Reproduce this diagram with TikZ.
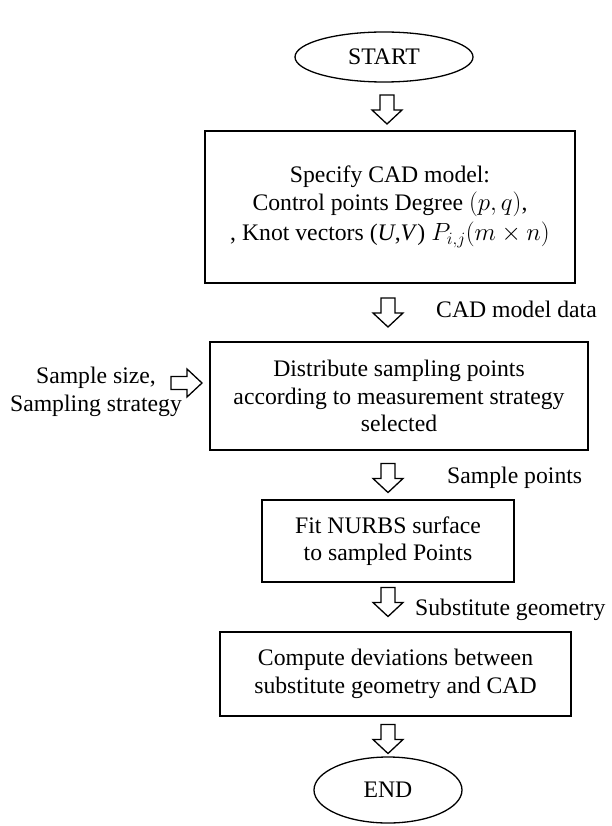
\documentclass[tikz,border=0pt]{standalone}
\usepackage{fontspec}
\setmainfont{Liberation Serif}
\usetikzlibrary{shapes.geometric,calc}
\begin{document}
\begin{tikzpicture}[x=1pt,y=-1pt,
  txt/.style={font=\fontsize{23.7}{27.5}\selectfont},
  box/.style={draw,line width=1.7pt,txt,align=center,inner sep=0pt},
  term/.style={draw,ellipse,line width=1.3pt,txt,inner sep=0pt},
  lbl/.style={txt,inner sep=0pt},
  blk/.style={draw,line width=1.3pt,fill=white,line join=miter},
  downblk/.pic={\draw[blk] (-7,-14.5) -- (7,-14.5) -- (7,0.5) -- (15,0.5) -- (0,14.5) -- (-15,0.5) -- (-7,0.5) -- cycle;},
  rightblk/.pic={\draw[blk] (-15.5,-6.5) -- (0.5,-6.5) -- (0.5,-14) -- (15.5,0) -- (0.5,14) -- (0.5,6.5) -- (-15.5,6.5) -- cycle;}]
\fill[white] (0,0) rectangle (611,826);
\useasboundingbox (0,0) rectangle (611,826);

% nodes
\node[term, minimum width=178, minimum height=50] (start) at (384,57) {START};
\node[box, minimum width=370, minimum height=152] (b1) at (390,207)
  {Specify CAD model:\\ Control points Degree $(p,q)$,\\[3pt] , Knot vectors (\textit{U},\textit{V}) $P_{i,j}(m\times n)$};
\node[box, minimum width=378, minimum height=108] (b2) at (399,396)
  {Distribute sampling points\\ according to measurement strategy\\ selected};
\node[box, minimum width=252, minimum height=82] (b3) at (388,541)
  {Fit NURBS surface\\ to sampled Points};
\node[box, minimum width=351, minimum height=84] (b4) at (395.5,674)
  {Compute deviations between\\ substitute geometry and CAD};
\node[term, minimum width=148, minimum height=66] (end) at (388,790) {END};

% labels
\node[lbl, anchor=base west] (l1) at (436,317) {CAD model data};
\node[lbl, anchor=base west] (l2) at (447,483) {Sample points};
\node[lbl, anchor=base west] (l3) at (415,615) {Substitute geometry};
\node[lbl, align=center] (l0) at (96,392) {Sample size,\\ Sampling strategy};

% block arrows (connectors)
\coordinate (a1) at (387,109.5);
\coordinate (a2) at (388,312.5);
\coordinate (a3) at (388,478);
\coordinate (a4) at (388,602);
\coordinate (a5) at (388,739);
\coordinate (ar) at (186.5,383);
\pic at (a1) {downblk};
\pic at (a2) {downblk};
\pic at (a3) {downblk};
\pic at (a4) {downblk};
\pic at (a5) {downblk};
\pic at (ar) {rightblk};
\end{tikzpicture}
\end{document}
